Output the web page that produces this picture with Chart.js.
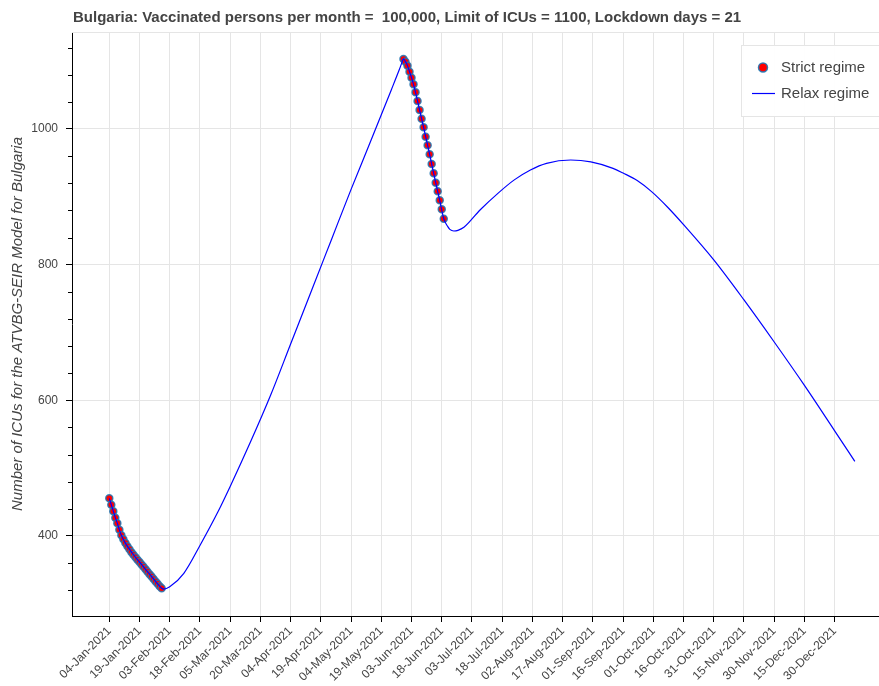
<!DOCTYPE html>
<html>
<head>
<meta charset="utf-8">
<script src="https://cdn.jsdelivr.net/npm/chart.js@4.4.1/dist/chart.umd.min.js"></script>
<style>
  html, body { margin: 0; padding: 0; background: #fff; }
  canvas { display: block; }
</style>
</head>
<body>
<canvas id="icuChart" width="879" height="686"></canvas>
<script>
/* ICU model chart - Bulgaria, strict vs relax regime */

const TITLE = 'Bulgaria: Vaccinated persons per month =  100,000, Limit of ICUs = 1100, Lockdown days = 21';
const Y_TITLE = 'Number of ICUs for the ATVBG-SEIR Model for Bulgaria';

// x is measured in days from 04-Jan-2021
const tickDays = [0, 15, 30, 45, 60, 75, 90, 105, 120, 135, 150, 165, 180, 195, 210, 225, 240, 255, 270, 285, 300, 315, 330, 345, 360];
const tickLabels = ['04-Jan-2021', '19-Jan-2021', '03-Feb-2021', '18-Feb-2021', '05-Mar-2021', '20-Mar-2021',
  '04-Apr-2021', '19-Apr-2021', '04-May-2021', '19-May-2021', '03-Jun-2021', '18-Jun-2021', '03-Jul-2021',
  '18-Jul-2021', '02-Aug-2021', '17-Aug-2021', '01-Sep-2021', '16-Sep-2021', '01-Oct-2021', '16-Oct-2021',
  '31-Oct-2021', '15-Nov-2021', '30-Nov-2021', '15-Dec-2021', '30-Dec-2021'];

const yMajor = [400, 600, 800, 1000];
const yMinor = [320, 360, 440, 480, 520, 560, 640, 680, 720, 760, 840, 880, 920, 960, 1040, 1080, 1120];

// lockdown days (strict regime), one dot per day
const strictDays = [0, 1, 2, 3, 4, 5, 6, 7, 8, 9, 10, 11, 12, 13, 14, 15, 16, 17, 18, 19, 20, 21, 22, 23, 24, 25, 26,
  146, 147, 148, 149, 150, 151, 152, 153, 154, 155, 156, 157, 158, 159, 160, 161, 162, 163, 164, 165, 166];
const strictIcu = [455.5, 446, 436.5, 427, 418.7, 409, 401, 395, 389.5, 385, 380.5, 376, 372.3, 368.7, 365, 361.5,
  358, 354.5, 350.8, 347.3, 343.7, 340.2, 336.6, 333, 329.5, 326, 322.9,
  1103.2, 1099.3, 1093.4, 1084.5, 1075.7, 1065.9, 1054.1, 1041.3, 1028.0, 1015.2, 1002.5, 988.6, 976.0,
  962.7, 948.4, 934.7, 920.8, 908.1, 894.8, 881.6, 867.7];

// full trajectory (relax regime)
const relaxDays = [0, 1, 2, 3, 4, 5, 6, 8, 10, 12, 14, 16, 18, 20, 22, 24, 26, 27, 30, 37, 45, 54, 60, 70, 80, 90,
  100, 110, 120, 130, 140, 144, 145, 146, 147, 148, 149, 150, 152, 154, 156, 158, 160, 162, 164, 166, 168, 169, 171,
  173, 176, 184, 193, 201, 209, 217, 229, 239, 250, 255, 262, 269, 277, 285, 300, 315, 330, 345, 360, 370];
const relaxIcu = [455.5, 446, 436.5, 427, 418.7, 409, 401, 389.5, 380.5, 372.3, 365, 358, 350.8, 343.7, 336.6,
  329.5, 322.9, 321.5, 325, 345, 386, 436, 473, 538, 607, 683,
  759, 835, 911, 984, 1058, 1088, 1096, 1103.5, 1099.3, 1093.4, 1084.5, 1075.7, 1054.1, 1028.0, 1002.5, 976.0,
  948.4, 920.8, 894.8, 867.7, 856, 852, 849.6,
  850.5, 855, 880.6, 905.5, 925, 939.6, 949.4, 954.3, 951.5, 942, 935, 924, 908, 885, 859, 807, 748, 686, 622, 555, 510];

const FONT = '"Liberation Sans", Arial, Helvetica, sans-serif';
Chart.defaults.font.family = FONT;

// title, outline, minor ticks and legend drawn on top
const decorPlugin = {
  id: 'decor',
  afterDraw(chart) {
    const { ctx, chartArea: a, scales: { y } } = chart;
    ctx.save();

    // frame outline top
    ctx.strokeStyle = '#e5e5e5';
    ctx.lineWidth = 1;
    ctx.beginPath();
    ctx.moveTo(a.left, a.top + 0.5);
    ctx.lineTo(a.right, a.top + 0.5);
    ctx.stroke();

    // minor y ticks
    ctx.strokeStyle = '#000';
    ctx.beginPath();
    yMinor.forEach(v => {
      const py = Math.round(y.getPixelForValue(v)) + 0.5;
      ctx.moveTo(a.left - 4, py);
      ctx.lineTo(a.left, py);
    });
    ctx.stroke();

    // title
    ctx.fillStyle = '#444';
    ctx.font = 'bold 15px ' + FONT;
    ctx.textAlign = 'left';
    ctx.textBaseline = 'middle';
    ctx.fillText(TITLE, a.left + 1, 18);

    // legend box
    const lx = 741.5, ly = 45.5;
    ctx.fillStyle = 'rgba(255,255,255,0.95)';
    ctx.fillRect(lx, ly, 170, 71);
    ctx.strokeStyle = '#e5e5e5';
    ctx.strokeRect(lx, ly, 170, 71);

    const ds = chart.data.datasets;
    ctx.font = '15px ' + FONT;
    // strict regime: dot
    ctx.beginPath();
    ctx.arc(763, 67.5, 4.5, 0, Math.PI * 2);
    ctx.fillStyle = 'red';
    ctx.fill();
    ctx.strokeStyle = 'rgba(31,119,180,0.9)';
    ctx.lineWidth = 1.5;
    ctx.stroke();
    ctx.fillStyle = '#444';
    ctx.fillText(ds[1].label, 781, 68);
    // relax regime: line
    ctx.beginPath();
    ctx.moveTo(752, 93.5);
    ctx.lineTo(775, 93.5);
    ctx.strokeStyle = '#0000ff';
    ctx.lineWidth = 1.2;
    ctx.stroke();
    ctx.fillText(ds[0].label, 781, 94);

    ctx.restore();
  }
};

new Chart(document.getElementById('icuChart'), {
  type: 'line',
  data: {
    datasets: [
      {
        label: 'Relax regime',
        data: relaxDays.map((d, i) => ({ x: d, y: relaxIcu[i] })),
        borderColor: '#0000ff',
        borderWidth: 1.2,
        pointRadius: 0,
        fill: false,
        cubicInterpolationMode: 'monotone',
        order: 0
      },
      {
        label: 'Strict regime',
        data: strictDays.map((d, i) => ({ x: d, y: strictIcu[i] })),
        showLine: false,
        pointRadius: 3.5,
        pointBackgroundColor: 'red',
        pointBorderColor: 'rgba(31,119,180,0.85)',
        pointBorderWidth: 1.5,
        order: 1
      }
    ]
  },
  options: {
    responsive: false,
    animation: false,
    devicePixelRatio: 1,
    layout: { autoPadding: false, padding: { top: 32, left: 0, right: 0, bottom: 0 } },
    plugins: {
      legend: { display: false },
      title: { display: false },
      tooltip: { enabled: false }
    },
    scales: {
      x: {
        type: 'linear',
        min: -18.5,
        max: 382,
        afterBuildTicks: s => { s.ticks = tickDays.map(v => ({ value: v })); },
        afterFit: s => { s.height = 70; s.paddingLeft = 0; s.paddingRight = 0; },
        ticks: {
          autoSkip: false,
          minRotation: 45,
          maxRotation: 45,
          padding: 2,
          color: '#444',
          font: { size: 12 },
          callback: v => tickLabels[tickDays.indexOf(v)]
        },
        grid: { color: '#e5e5e5', tickColor: '#000', tickLength: 6 },
        border: { color: '#000', width: 1 }
      },
      y: {
        min: 282,
        max: 1143,
        afterBuildTicks: s => { s.ticks = yMajor.map(v => ({ value: v })); },
        afterFit: s => { s.width = 72; s.paddingTop = 0; s.paddingBottom = 0; },
        ticks: { padding: 8, color: '#444', font: { size: 12 }, callback: v => String(v) },
        grid: { color: '#e5e5e5', tickColor: '#000', tickLength: 6 },
        border: { color: '#000', width: 1 },
        title: {
          display: true,
          text: Y_TITLE,
          color: '#444',
          font: { size: 15, style: 'italic' },
          padding: { top: 9, bottom: 0 }
        }
      }
    }
  },
  plugins: [decorPlugin]
});
</script>
</body>
</html>
